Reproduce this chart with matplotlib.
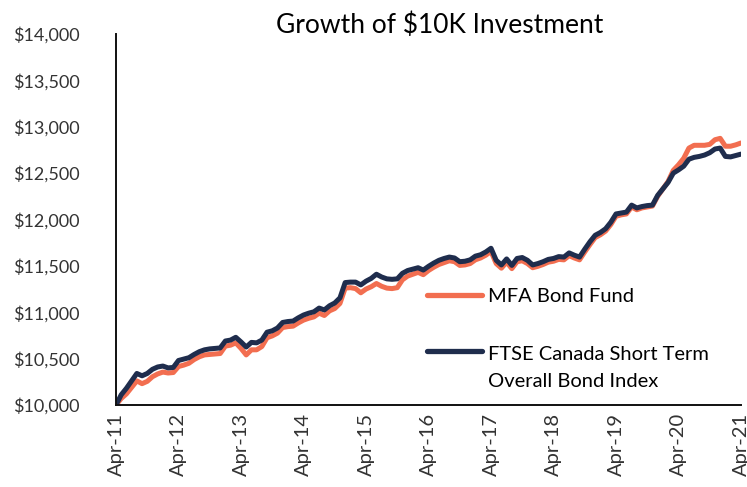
import numpy as np
import matplotlib.pyplot as plt
from matplotlib.ticker import FuncFormatter

plt.rcParams['font.family'] = ['Lato', 'DejaVu Sans']

# monthly values, Apr-11 .. Apr-21
fund = [
    10000, 10070, 10120, 10190, 10260, 10230, 10255, 10305, 10335, 10355, 10345, 10350,
    10415, 10430, 10450, 10490, 10520, 10540, 10545, 10550, 10555, 10635, 10645, 10670,
    10610, 10540, 10595, 10595, 10630, 10725, 10745, 10775, 10835, 10845, 10850, 10885,
    10915, 10935, 10950, 10990, 10965, 11015, 11040, 11095, 11260, 11265, 11255, 11210,
    11250, 11275, 11310, 11280, 11260, 11255, 11265, 11350, 11390, 11410, 11430, 11405,
    11450, 11485, 11515, 11535, 11555, 11545, 11505, 11510, 11525, 11565, 11585, 11615,
    11655, 11525, 11475, 11540, 11470, 11545, 11555, 11525, 11480, 11495, 11515, 11540,
    11550, 11570, 11565, 11610, 11585, 11565, 11650, 11730, 11805, 11835, 11875, 11945,
    12035, 12050, 12060, 12135, 12105, 12125, 12135, 12145, 12250, 12330, 12410, 12530,
    12590, 12660, 12770, 12800, 12800, 12800, 12810, 12860, 12875, 12790, 12790, 12805,
    12825,
]
index = [
    10000, 10110, 10180, 10260, 10340, 10315, 10340, 10385, 10410, 10420, 10400, 10405,
    10480, 10495, 10510, 10545, 10575, 10595, 10605, 10610, 10615, 10690, 10700, 10730,
    10680, 10625, 10675, 10670, 10700, 10785, 10800, 10830, 10890, 10900, 10905, 10940,
    10970, 10990, 11005, 11045, 11025, 11070, 11100, 11155, 11320, 11325, 11325, 11295,
    11335, 11365, 11410, 11380, 11360, 11355, 11360, 11420, 11450, 11465, 11480, 11455,
    11495, 11530, 11560, 11580, 11595, 11585, 11545, 11550, 11565, 11605, 11620, 11650,
    11690, 11560, 11510, 11575, 11505, 11580, 11590, 11560, 11510, 11525, 11545, 11570,
    11580, 11600, 11595, 11640, 11615, 11595, 11680, 11760, 11830, 11860, 11900, 11970,
    12060, 12070, 12080, 12155, 12125, 12140, 12150, 12155, 12260, 12330, 12400, 12500,
    12535, 12575, 12650, 12670, 12680, 12695, 12720, 12760, 12770, 12680, 12675, 12690,
    12705,
]
tick_labels = ["Apr-11", "Apr-12", "Apr-13", "Apr-14", "Apr-15", "Apr-16",
               "Apr-17", "Apr-18", "Apr-19", "Apr-20", "Apr-21"]
fund_name = "MFA Bond Fund"
index_name = ["FTSE Canada Short Term", "Overall Bond Index"]

ORANGE = "#F26E50"
NAVY = "#1F2D4D"

fig = plt.figure(figsize=(7.47, 4.87), dpi=100)
ax = fig.add_axes([116 / 747, 1 - 405 / 487, 625 / 747, 371 / 487])

x = np.arange(len(fund))
ax.plot(x, fund, color=ORANGE, lw=3.6, solid_capstyle="round", solid_joinstyle="round")
ax.plot(x, index, color=NAVY, lw=3.6, solid_capstyle="round", solid_joinstyle="round")

ax.set_xlim(0, len(fund) - 1)
ax.set_ylim(10000, 14000)
ax.set_yticks(np.arange(10000, 14001, 500))
ax.yaxis.set_major_formatter(FuncFormatter(lambda v, p: f"${v:,.0f}"))
ax.set_xticks(np.arange(0, len(fund), 12))
ax.set_xticklabels(tick_labels, rotation=90)
ax.tick_params(axis="y", length=0, pad=26, labelsize=13, labelcolor="#333333")
ax.tick_params(axis="x", length=0, pad=5.5, labelsize=14.5, labelcolor="#333333")

for s in ["top", "right"]:
    ax.spines[s].set_visible(False)
for s in ["left", "bottom"]:
    ax.spines[s].set_color("#111111")
    ax.spines[s].set_linewidth(1.4)

# legend, Excel style (handle aligned with first line)
ax.plot([0.498, 0.586], [0.296, 0.296], transform=ax.transAxes, color=ORANGE,
        lw=3.8, solid_capstyle="round", clip_on=False)
ax.text(0.595, 0.292, fund_name, transform=ax.transAxes, fontsize=14.5, va="center")
ax.plot([0.498, 0.586], [0.146, 0.146], transform=ax.transAxes, color=NAVY,
        lw=3.8, solid_capstyle="round", clip_on=False)
ax.text(0.595, 0.137, index_name[0], transform=ax.transAxes, fontsize=14.5, va="center")
ax.text(0.595, 0.062, index_name[1], transform=ax.transAxes, fontsize=14.5, va="center")

fig.text(440 / 747, 1 - 25 / 487, "Growth of $10K Investment", fontsize=19,
         ha="center", va="center")

fig.savefig("out.png", dpi=100)
